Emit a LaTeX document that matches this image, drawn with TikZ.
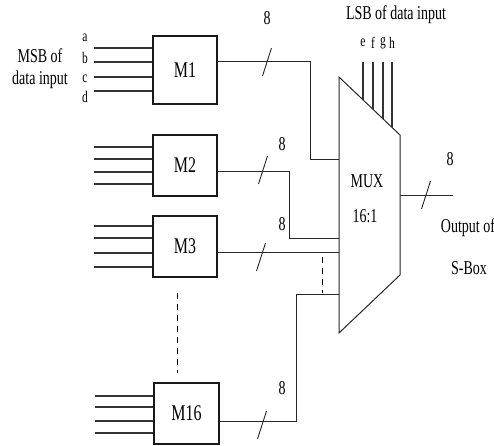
\documentclass[tikz,border=0pt]{standalone}
\usepackage{fontspec}
\setmainfont{Liberation Serif}
\newcommand\vst[1]{\scalebox{1}[1.4]{#1}}
\begin{document}
\begin{tikzpicture}[x=1pt,y=-1pt,
  inwire/.style={line width=1.4pt,draw=black!80},
  mbox/.style={draw=black!90,line width=1.1pt,minimum width=64pt,inner sep=0pt,font=\fontsize{16}{18}\selectfont},
  lbl/.style={inner sep=0pt,font=\fontsize{14}{16}\selectfont},
  sml/.style={inner sep=0pt,font=\fontsize{11.5}{13}\selectfont},
  bus/.style={line width=1pt,draw=black!85}]
\useasboundingbox (0,0) rectangle (494,445);
% boxes
\node[mbox,minimum height=68pt] (M1) at (185,70) {\vst{M1}};
\node[mbox,minimum height=61pt] (M2) at (185,165.5) {\vst{M2}};
\node[mbox,minimum height=61pt] (M3) at (185,246.5) {\vst{M3}};
\node[mbox,minimum height=61pt,minimum width=65pt] (M16) at (186.5,413.5) {\vst{M16}};
% inputs
\foreach \y in {48,62,77,91} \draw[inwire] (M1.west |- 0,\y) -- ++(-58,0);
\foreach \y in {147,159,172,184} \draw[inwire] (M2.west |- 0,\y) -- ++(-58,0);
\foreach \y in {226,238,253,267} \draw[inwire] (M3.west |- 0,\y) -- ++(-58,0);
\foreach \y in {396,407,421,433} \draw[inwire] (M16.west |- 0,\y) -- ++(-58,0);
% MUX
\coordinate (mtl) at (339,77);
\coordinate (mtr) at (400,135);
\coordinate (mbr) at (400,275);
\coordinate (mbl) at (339,333);
\draw[line width=1pt,draw=black!85] (mtl) -- (mtr) -- (mbr) -- (mbl) -- cycle;
\node[lbl] (mux) at (367,181) {\vst{MUX}};
\node[lbl] (ratio) at (365,216) {\vst{16:1}};
% connections
\coordinate (i1) at (339,159);
\coordinate (i2) at (339,238);
\coordinate (i3) at (339,252);
\coordinate (i16) at (339,294);
\draw[bus] (M1.east |- 0,61) -- (310,61) -- (310,159) -- (i1);
\draw[bus] (M2.east |- 0,171) -- (289,171) -- (289,238) -- (i2);
\draw[bus] (M3.east |- 0,252) -- (i3);
\draw[bus] (M16.east |- 0,421) -- (296,421) -- (296,294) -- (i16);
\coordinate (out) at (453,195);
\draw[bus] (mtr |- 0,195) -- (out);
% slashes
\foreach \x/\y in {267/62,263/170,261/257,262/425,426/195}
  \draw[line width=0.9pt,black!85] (\x-4.5,\y+14) -- (\x+4.5,\y-14);
% dashed
\draw[line width=0.9pt,dash pattern=on 6pt off 5pt] (322,257) -- (322,293);
\draw[line width=0.9pt,dash pattern=on 6pt off 5pt] (177,293) -- (177,373);
% LSB lines
\foreach \x/\yy/\t in {363/99.8/e,373/109.3/f,383/118.8/g,392/127.4/h}{
  \draw[line width=1.1pt,black!80] (\x,62) -- (\x,\yy);
  \node[sml] at (\x,43) {\vst{\t}};
}
% labels
\node[lbl] (lsb) at (396,15) {\vst{LSB of data input}};
\node[lbl] (msb1) at (40,56) {\vst{MSB of}};
\node[lbl] (msb2) at (40,80) {\vst{data input}};
\foreach \y/\t in {38/a,58/b,79/c,97/d} \node[sml] at (85,\y) {\vst{\t}};
\foreach \x/\y in {267/18,282/144,282/224,282/388,450/159} \node[lbl] at (\x,\y) {\vst{8}};
\node[lbl] (o1) at (468,228) {\vst{Output of}};
\node[lbl] (o2) at (469,268) {\vst{S-Box}};
\end{tikzpicture}
\end{document}
